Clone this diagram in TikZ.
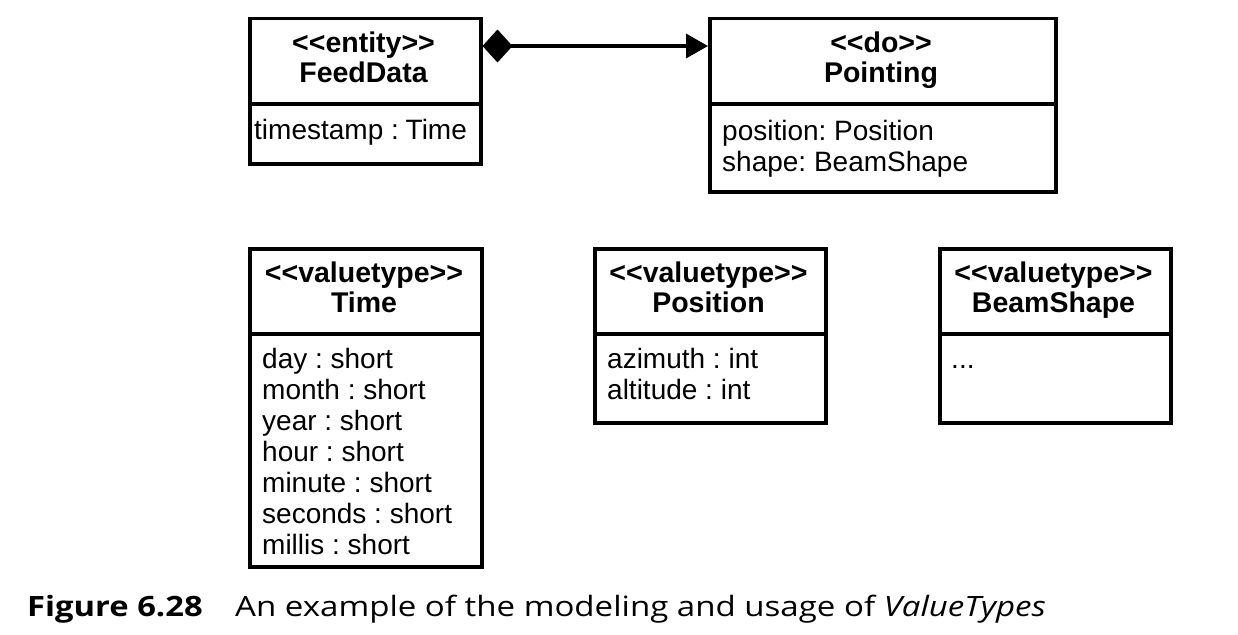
\documentclass[tikz,border=0pt]{standalone}
\usepackage{fontspec}
\setmainfont[Ligatures=NoCommon]{Liberation Sans}
\newfontfamily\capfont{Open Sans}
\usetikzlibrary{arrows.meta,calc}
\newcommand{\stl}{\vphantom{Hy}<\kern0pt<\kern0pt}
\newcommand{\stg}{\kern0pt>\kern0pt>}
\newcommand{\tsp}{\vphantom{Hy}}
\tikzset{
  umlbox/.style={draw=black, line width=3.5pt, rectangle, inner sep=0pt, anchor=north west},
  divider/.style={line width=3.5pt},
  titletext/.style={font=\fontsize{28.5}{30}\selectfont\bfseries, align=center, inner sep=0pt},
  attrtext/.style={font=\fontsize{28}{31}\selectfont\frenchspacing, align=left, inner sep=0pt, anchor=north west},
  comp/.style={line width=3.5pt, {Diamond[length=30pt,width=33pt]}-{Triangle[length=22pt,width=24pt]}},
  captext/.style={font=\capfont\fontsize{28}{30}\selectfont, inner sep=0pt, anchor=base west}
}
\begin{document}
\begin{tikzpicture}[x=1pt,y=-1pt]
\useasboundingbox (0,0) rectangle (1238,634);
% FeedData
\node[umlbox, minimum width=231pt, minimum height=145pt] (feed) at (248,17) {};
\draw[divider] (248,104) -- (479,104);
\node[titletext] (feedt) at (363.5,60.5) {\stl entity\stg\\\tsp FeedData};
\node[attrtext] (feeda) at (254,119.5) {timestamp :\hspace{-1pt} Time};
% Pointing
\node[umlbox, minimum width=346pt, minimum height=173pt] (point) at (708,17) {};
\draw[divider] (708,104) -- (1054,104);
\node[titletext] (pointt) at (881,60.5) {\stl do\stg\\\tsp Pointing};
\node[attrtext] (pointa) at (722,120.5) {position: Position\\shape: BeamShape};
% connector
\coordinate (cs) at ($(feed.north east)+(0,29)$);
\coordinate (ce) at ($(point.north west)+(0,29)$);
\draw[comp] (cs) -- (ce);
% Time
\node[umlbox, minimum width=232pt, minimum height=318pt] (time) at (248,247) {};
\draw[divider] (248,334) -- (480,334);
\node[titletext] (timet) at (364,290.5) {\stl valuetype\stg\\\tsp Time};
\node[attrtext] (timea) at (262,348.5) {day : short\\month : short\\year : short\\hour : short\\minute : short\\seconds : short\\millis : short};
% Position
\node[umlbox, minimum width=231pt, minimum height=174pt] (pos) at (593,247) {};
\draw[divider] (593,334) -- (824,334);
\node[titletext] (post) at (708.5,290.5) {\stl valuetype\stg\\\tsp Position};
\node[attrtext] (posa) at (607,348.5) {azimuth : int\\altitude : int};
% BeamShape
\node[umlbox, minimum width=231pt, minimum height=174pt] (beam) at (938,247) {};
\draw[divider] (938,334) -- (1169,334);
\node[titletext] (beamt) at (1053.5,290.5) {\stl valuetype\stg\\\tsp BeamShape};
\node[attrtext] (beama) at (951,348.5) {\vphantom{dy}...};
% caption
\node[captext] (capf) at (27,616) {\scalebox{1.17}[1]{\bfseries Figure 6.28}};
\node[captext] (capt) at (235,616) {\scalebox{1.18}[1]{An example of the modeling and usage of \textit{ValueTypes}}};
\end{tikzpicture}
\end{document}
